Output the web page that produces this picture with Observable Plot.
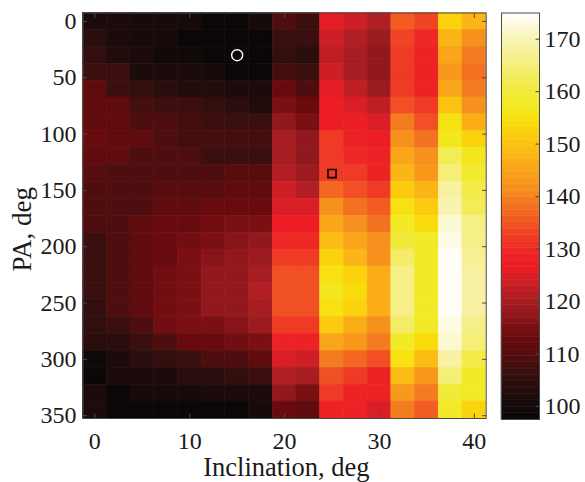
<!DOCTYPE html>
<html><head><meta charset="utf-8">
<script src="https://cdn.jsdelivr.net/npm/d3@7"></script>
<script src="https://cdn.jsdelivr.net/npm/@observablehq/plot@0.6"></script>
<style>
html,body{margin:0;padding:0;background:#fff;}
#chart{position:relative;width:585px;height:482px;overflow:hidden;}
#chart svg{position:absolute;top:0;}
</style></head><body><div id="chart"></div>
<script>
// ---- data ----
const inclination = [0, 2.5, 5, 7.5, 10, 12.5, 15, 17.5, 20, 22.5, 25, 27.5, 30, 32.5, 35, 37.5, 40];
const pa = [0, 15, 30, 45, 60, 75, 90, 105, 120, 135, 150, 165, 180, 195, 210, 225, 240, 255, 270, 285, 300, 315, 330, 345];
// one row per PA value, one entry per inclination value
const values = [
  [102,102.3,100,100,100.5,98,98,100.5,108.7,107,125.8,123.7,121,135.5,133.5,152.5,148],
  [104,102.3,100.2,100.2,97.5,97.5,97.5,97.5,106.5,106.3,123.3,120.8,119,133.3,130,148,142],
  [105.7,103.5,101.5,99,99,97.5,97.5,97.5,105.3,104.3,122.8,120.3,117.7,132,128.5,145,139],
  [106.8,106,102,101.2,101.2,100.5,97.5,97.5,107.5,106,123.3,120,117.5,131.5,128,143,137.5],
  [111,106.8,105,103.7,103,103,102,101.2,112.3,109,125.5,122,119,131.5,128.5,145.5,139],
  [111.8,111,107.3,106,106,105,104.3,103,114.5,112.5,127,125.3,121.8,135,132,149.6,142.2],
  [111.8,111,109,108.5,107.5,106,106,106,117,115,127,127,125,139,135,155.5,146.5],
  [112.2,111.5,111.5,109,107.5,107.5,107.5,107.5,119.3,117,131.5,128.5,127,142,138,156.5,153],
  [112,111,109,109,109,107,107,107,120.2,117.8,132,130,128,145,141.5,162,156.5],
  [110.2,109,109,109,109,109,109.8,109.8,120.7,119,132.5,131.5,128,148.3,143,165,159],
  [108.5,108.5,108.5,109.8,109.8,109.8,111,111,123,121,137,135,132,151.2,147.2,168,161.5],
  [109,109,109,111,111,112.2,112.2,112.2,125,125,141.5,138.5,135.3,155.5,151.5,170,162.5],
  [109,109,111.6,112.5,112.5,113.7,115,115,127,127,145,141.5,138,157,153.5,172,165.5],
  [107,109,111.6,112.5,114,115.2,116.5,118,130,130,149.5,145,141.5,160,157,173.5,166.5],
  [107,109,111.6,112.5,115,116.5,117,118.5,131.5,131.5,152.5,148,142,163.8,158,174.5,167],
  [107,109,111.6,114,115,118,118,119.3,134,134,155.5,152.5,146,166,158,175,168],
  [107,109,111.6,114,115,118,118,120.8,135,135,156,153.5,146,166,158,175,168],
  [105.3,109,111.6,114,115,118,118,120,134,134,155.5,152.5,147,166,158,175,168],
  [105.3,106.5,108.5,113.3,115,115,115.8,118.5,132,132,151,147,142,163,157,173.5,166],
  [104.3,104.3,106.5,109,112.5,112.5,114,115,128,128,145,142.5,139,157,153.5,171.5,165],
  [99.2,102,104.3,105.3,107,109,109,112,124.5,124,139,137,134,155.5,149.5,168.5,161.5],
  [98.5,101.2,101.2,102.3,104.3,104.3,105,106.5,121,120,135,132,128.5,149.5,142.5,165,158],
  [102,98.5,100.2,100.2,100.2,101.2,102.3,102.3,118,115,131.5,128.5,128,142.5,139,160,158],
  [101.2,98.5,98.5,98.5,98.5,98.5,98.5,100.2,112.5,111,128,128,125,139,136,157,152.5]
];
const xTicks = [0, 10, 20, 30, 40];
const yTicks = [0, 50, 100, 150, 200, 250, 300, 350];
const colorTicks = [100, 110, 120, 130, 140, 150, 160, 170];
const colorDomain = [97.5, 175];
const circleMarker = [{inclination: 15, pa: 30}];
const squareMarker = [{inclination: 25, pa: 135}];
const xLabel = "Inclination, deg";
const yLabel = "PA, deg";

// ---- colormap ("hot", as printed) ----
const rampValues = [97.5,100,103,106,109,112,115,118,121,124,127,130,133,136,139,142,145,148,151,154,157,160,163,166,169,172,175];
const rampColors = ["#0a0606","#140a0a","#220b0b","#360f0f","#4e0d0e","#640a0d","#7a1014","#961a1e","#b01e24","#d41e26","#ec1c24","#ee2a26","#ef4224","#f26022","#f47a20","#f7941d","#faa41a","#fbb616","#fcc810","#f9dc0c","#f2ea22","#f2ea3a","#f4ec60","#f6ef88","#f8f2a8","#fbf8d2","#ffffff"];
const valueToColor = d3.scaleLinear().domain(rampValues).range(rampColors).clamp(true);
const nLevels = 64;
const hotPrint = t => {
  const q = Math.max(0, Math.min(nLevels - 1, Math.floor(t * nLevels)));
  return valueToColor(colorDomain[0] + (q + 0.5) / nLevels * (colorDomain[1] - colorDomain[0]));
};

const dInc = inclination[1] - inclination[0];
const dPa = pa[1] - pa[0];
const cells = pa.flatMap((p, i) => inclination.map((inc, j) => ({inc, p, v: values[i][j]})));

const font = "'Liberation Serif', 'Times New Roman', Times, serif";
const axisColor = "#4a4a4a";
const textColor = "#1a1a1a";
const tickFont = 24;
const labelFont = 27;

const main = Plot.plot({
  width: 490, height: 482,
  marginLeft: 82.5, marginRight: 4.3, marginTop: 12.5, marginBottom: 64,
  style: {fontFamily: font, fontSize: "24px", color: textColor, background: "transparent"},
  x: {domain: [inclination[0] - dInc / 2, inclination[inclination.length - 1] + dInc / 2]},
  y: {domain: [pa[0] - dPa / 2, pa[pa.length - 1] + dPa / 2], reverse: true},
  color: {type: "linear", domain: colorDomain, interpolate: hotPrint},
  marks: [
    Plot.rect(cells, {x1: d => d.inc - dInc / 2, x2: d => d.inc + dInc / 2, y1: d => d.p - dPa / 2, y2: d => d.p + dPa / 2, fill: "v", stroke: "v", strokeWidth: 0.6}),
    Plot.frame({stroke: axisColor, strokeWidth: 1}),
    Plot.axisX(xTicks, {anchor: "bottom", tickSize: -4.5, tickFormat: () => "", stroke: axisColor, label: null}),
    Plot.axisX(xTicks, {anchor: "top", tickSize: -4.5, tickFormat: () => "", stroke: axisColor, label: null}),
    Plot.axisX(xTicks, {anchor: "bottom", tickSize: 0, tickPadding: 13.5, label: null, fontSize: tickFont, fontFamily: font, fill: textColor}),
    Plot.axisY(yTicks, {anchor: "left", tickSize: -4.5, tickFormat: () => "", stroke: axisColor, label: null}),
    Plot.axisY(yTicks, {anchor: "right", tickSize: -4.5, tickFormat: () => "", stroke: axisColor, label: null}),
    Plot.axisY(yTicks, {anchor: "left", tickSize: 0, tickPadding: 6.5, label: null, fontSize: tickFont, fontFamily: font, fill: textColor}),
    Plot.dot(circleMarker, {x: "inclination", y: "pa", r: 5.5, stroke: "white", strokeWidth: 1.4}),
    Plot.dot(squareMarker, {x: "inclination", y: "pa", symbol: "square", r: 4.6, stroke: "black", strokeWidth: 1.6}),
    Plot.text([xLabel], {text: d => d, frameAnchor: "bottom", textAnchor: "middle", lineAnchor: "middle", dx: 1.8, dy: 48.6, fontSize: 26.5, fontFamily: font, fill: textColor}),
    Plot.text([yLabel], {text: d => d, frameAnchor: "left", textAnchor: "middle", lineAnchor: "middle", rotate: -90, dx: -60.3, dy: 13.5, fontSize: labelFont, fontFamily: font, fill: textColor})
  ]
});
main.style.left = "0px";

const lo = colorDomain[0], hi = colorDomain[1], step = (hi - lo) / nLevels;
const levels = d3.range(nLevels).map(i => ({y1: lo + i * step, y2: lo + (i + 1) * step, v: lo + (i + 0.5) * step}));

const bar = Plot.plot({
  width: 95, height: 482,
  marginLeft: 11, marginRight: 46, marginTop: 12.5, marginBottom: 63,
  style: {fontFamily: font, fontSize: "24px", color: textColor, background: "transparent"},
  x: {domain: [0, 1], axis: null},
  y: {domain: colorDomain},
  color: {type: "linear", domain: colorDomain, interpolate: hotPrint},
  marks: [
    Plot.rect(levels, {y1: "y1", y2: "y2", fill: "v", stroke: "v", strokeWidth: 0.5}),
    Plot.frame({stroke: axisColor, strokeWidth: 1}),
    Plot.axisY(colorTicks, {anchor: "right", tickSize: -4.5, tickFormat: () => "", stroke: axisColor, label: null}),
    Plot.axisY(colorTicks, {anchor: "right", tickSize: 0, tickPadding: 5, label: null, fontSize: tickFont, fontFamily: font, fill: textColor})
  ]
});
bar.style.left = "490px";

const chart = document.getElementById("chart");
chart.appendChild(main);
chart.appendChild(bar);
</script></body></html>
